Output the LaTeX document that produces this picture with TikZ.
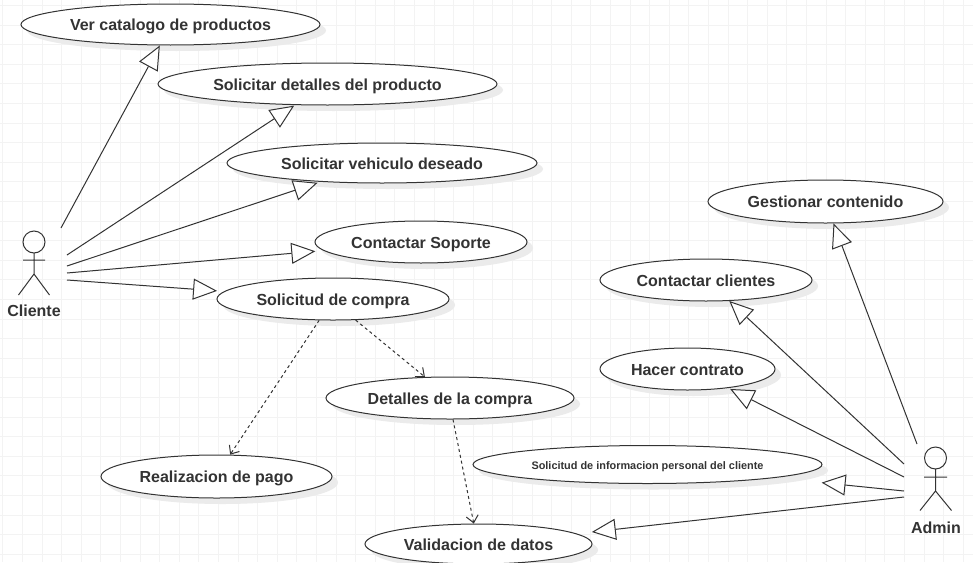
\documentclass[tikz,border=0pt]{standalone}
\usepackage{fontspec}
\setmainfont{Liberation Sans}
\usetikzlibrary{arrows.meta,shapes.geometric,shadows}
\definecolor{umlink}{HTML}{333333}
\definecolor{umlgrid}{HTML}{F3F3F3}
\begin{document}
\begin{tikzpicture}[x=1pt,y=-1pt]
    \tikzstyle{usecase}=[ellipse,draw=umlink,line width=1pt,fill=white,inner sep=0pt,
        text=umlink,font=\fontsize{16}{18}\selectfont\bfseries,text height=12.5pt,text depth=0pt,
        drop shadow={shadow xshift=6pt,shadow yshift=-6pt,fill=black!8,opacity=1}]
    \tikzstyle{actorname}=[text=umlink,font=\fontsize{16}{18}\selectfont\bfseries]
    \tikzstyle{stick}=[draw=umlink,line width=1pt]
    \tikzstyle{link}=[draw=umlink,line width=1pt,line join=miter,-{Triangle[length=24pt,width=21pt,fill=white]}]
    \tikzstyle{depend}=[draw=umlink,line width=1pt,dash pattern=on 3pt off 3pt,-{Straight Barb[length=7pt,width=12pt,line width=1pt]}]
    \useasboundingbox (0,0) rectangle (973,562);
    \fill[white] (0,0) rectangle (973,562);
    % grid
    \foreach \i in {0,...,49}
        \draw[umlgrid,line width=0.8pt] ({2.7+19.6*\i},0) -- ({2.7+19.6*\i},562);
    \foreach \i in {0,...,28}
        \draw[umlgrid,line width=0.8pt] (0,{5.4+19.6*\i}) -- (973,{5.4+19.6*\i});
    % use cases
    \node[usecase,minimum width=299pt,minimum height=41pt] (verCatalogo) at (170.5,24.5) {Ver catalogo de productos};
    \node[usecase,minimum width=339pt,minimum height=42pt] (verDetalles) at (327.5,84) {Solicitar detalles del producto};
    \node[usecase,minimum width=310pt,minimum height=40pt] (vehiculo) at (382,163) {Solicitar vehiculo deseado};
    \node[usecase,minimum width=212pt,minimum height=42pt] (soporte) at (421,242) {Contactar Soporte};
    \node[usecase,minimum width=232pt,minimum height=42pt] (compra) at (333,299) {Solicitud de compra};
    \node[usecase,minimum width=248pt,minimum height=42pt] (detalles) at (450,398) {Detalles de la compra};
    \node[usecase,minimum width=231pt,minimum height=43pt] (pago) at (216.5,476.5) {Realizacion de pago};
    \node[usecase,minimum width=227pt,minimum height=40pt] (validacion) at (478.5,544) {Validacion de datos};
    \node[usecase,minimum width=349pt,minimum height=38pt,font=\fontsize{10.9}{12}\selectfont\bfseries,text height=10pt] (informacion) at (647.5,464.5) {Solicitud de informacion personal del cliente};
    \node[usecase,minimum width=175pt,minimum height=42pt] (contrato) at (687.5,369) {Hacer contrato};
    \node[usecase,minimum width=212pt,minimum height=42pt] (clientes) at (706,280) {Contactar clientes};
    \node[usecase,minimum width=235pt,minimum height=43pt] (contenido) at (825.5,201.5) {Gestionar contenido};
    % actors
    \node[actorname] (cliente) at (34,311) {Cliente};
    \node[actorname] (admin) at (936,528) {Admin};
    \draw[stick] (34,242) circle (11);
    \draw[stick] (34,253) -- (34,274) (23,260) -- (45,260) (18.5,295) -- (34,274) -- (49.5,295);
    \draw[stick] (935.5,458) circle (11);
    \draw[stick] (935.5,469) -- (935.5,491) (924,477) -- (947,477) (920,510.5) -- (935.5,491) -- (951.5,510.5);
    % free ends near the actors
    \coordinate (c1) at (61,228);
    \coordinate (c2) at (67,255);
    \coordinate (c3) at (67,266);
    \coordinate (c4) at (67,273);
    \coordinate (c5) at (67,280);
    \coordinate (a1) at (917,444);
    \coordinate (a2) at (904,464);
    \coordinate (a3) at (904,477);
    \coordinate (a4) at (904,491);
    \coordinate (a5) at (904,497);
    % connectors
    \draw[link] (c1) -- (verCatalogo.-117);
    \draw[link,shorten >=1pt] (c2) -- (verDetalles.-147);
    \draw[link,shorten >=3pt] (c3) -- (vehiculo.-163);
    \draw[link,shorten >=8pt] (c4) -- (soporte.185);
    \draw[link,shorten >=7pt] (c5) -- (compra.176);
    \draw[link] (a1) -- (contenido.-70);
    \draw[link] (a2) -- (clientes.-42);
    \draw[link,shorten >=2pt] (a3) -- (contrato.-25);
    \draw[link,shorten >=47pt] (a4) -- (informacion.-6);
    \draw[link,shorten >=15pt] (a5) -- (validacion.6);
    \draw[depend] (compra.-123) -- (pago.58);
    \draw[depend] (compra.-43) -- (detalles.140);
    \draw[depend] (detalles.-82) -- (validacion.103);
\end{tikzpicture}
\end{document}
